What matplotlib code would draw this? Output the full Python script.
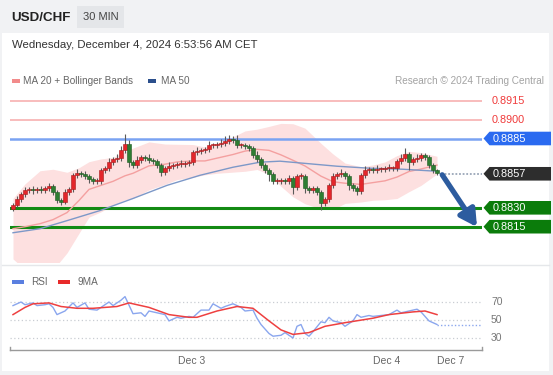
import matplotlib
matplotlib.use("Agg")
import matplotlib.pyplot as plt
from matplotlib.patches import Rectangle, Polygon
from matplotlib.transforms import blended_transform_factory
import numpy as np

plt.rcParams['font.family'] = ['Liberation Sans', 'DejaVu Sans']

# ---------------- data ----------------
symbol = "USD/CHF"
timeframe = "30 MIN"
timestamp = "Wednesday, December 4, 2024 6:53:56 AM CET"
copyright_text = "Research \u00a9 2024 Trading Central"

closes = [0.88326, 0.88366, 0.88406, 0.88438, 0.88446, 0.88438, 0.88446, 0.88438, 0.88454, 0.88470,
          0.88422, 0.88358, 0.88350, 0.88422, 0.88446, 0.88558, 0.88574, 0.88566, 0.88550, 0.88526,
          0.88510, 0.88510, 0.88598, 0.88614, 0.88662, 0.88686, 0.88694, 0.88758, 0.88806, 0.88662,
          0.88638, 0.88678, 0.88702, 0.88694, 0.88678, 0.88670, 0.88638, 0.88582, 0.88614, 0.88630,
          0.88638, 0.88646, 0.88646, 0.88654, 0.88662, 0.88742, 0.88750, 0.88758, 0.88766, 0.88798,
          0.88798, 0.88806, 0.88814, 0.88830, 0.88846, 0.88838, 0.88798, 0.88798, 0.88790, 0.88774,
          0.88718, 0.88686, 0.88638, 0.88598, 0.88566, 0.88510, 0.88510, 0.88518, 0.88510, 0.88534,
          0.88462, 0.88550, 0.88550, 0.88454, 0.88438, 0.88454, 0.88422, 0.88342, 0.88366, 0.88478,
          0.88550, 0.88566, 0.88574, 0.88550, 0.88478, 0.88454, 0.88430, 0.88558, 0.88598, 0.88606,
          0.88598, 0.88606, 0.88606, 0.88614, 0.88614, 0.88614, 0.88670, 0.88694, 0.88726, 0.88662,
          0.88686, 0.88694, 0.88718, 0.88702, 0.88638, 0.88598, 0.88574]
first_open = 0.88294
# wick lengths in pips (0.0001)
up_wick = [1, 3, 2, 3, 2, 3, 2, 3, 2, 3, 2, 2, 2, 3, 2, 2, 3, 2, 3, 2,
           2, 3, 2, 2, 3, 2, 3, 3, 8, 3, 2, 3, 2, 2, 3, 2, 2, 2, 2, 3,
           2, 2, 3, 2, 2, 2, 3, 2, 2, 3, 2, 2, 3, 4, 3, 2, 4, 2, 2, 2,
           2, 3, 2, 2, 2, 2, 3, 2, 2, 3, 2, 2, 3, 2, 2, 2, 2, 2, 2, 2,
           3, 2, 3, 2, 2, 2, 2, 2, 3, 2, 2, 3, 2, 2, 3, 2, 2, 3, 5, 2,
           2, 3, 2, 2, 2, 2, 1]
dn_wick = [2, 2, 2, 2, 2, 3, 2, 2, 2, 2, 2, 2, 3, 2, 2, 2, 2, 2, 2, 3,
           2, 2, 2, 2, 2, 2, 2, 2, 2, 4, 2, 2, 2, 2, 2, 2, 2, 3, 2, 2,
           2, 2, 2, 2, 2, 2, 2, 2, 2, 2, 2, 2, 2, 2, 2, 2, 2, 2, 2, 2,
           2, 2, 2, 2, 5, 2, 2, 2, 2, 2, 5, 2, 2, 4, 2, 2, 2, 6, 3, 2,
           2, 2, 2, 2, 4, 2, 3, 2, 2, 2, 2, 2, 2, 2, 2, 2, 2, 2, 2, 6,
           2, 2, 2, 2, 2, 2, 1]

ma20_idx = [0, 3, 6.75, 10, 13.5, 16.5, 19, 22, 25, 28, 30, 34, 38, 41, 45, 48, 51, 55, 58, 61,
            64, 67, 70, 73, 77, 80, 83, 87, 90, 93, 96, 99, 102, 106]
ma20 = [0.88134, 0.88150, 0.88174, 0.88206, 0.88262, 0.88358, 0.88446, 0.88478, 0.88510, 0.88554,
        0.88574, 0.88633, 0.88646, 0.88664, 0.88672, 0.88672, 0.88694, 0.88723, 0.88750, 0.88764,
        0.88756, 0.88720, 0.88677, 0.88632, 0.88551, 0.88507, 0.88495, 0.88486, 0.88500, 0.88514,
        0.88544, 0.88588, 0.88608, 0.88639]
bb_half_pips = [24, 34, 42, 40, 32, 26, 22, 21, 19, 19, 20, 19, 16, 14, 13, 11, 12, 14, 16, 16,
                19, 25, 29, 30, 26, 22, 16, 14, 14, 15, 17, 16, 13, 7]

ma50_idx = [0, 6.75, 13.5, 21.75, 30, 38.5, 46.75, 55, 61.75, 66.75, 72.5, 81, 89.25, 97.5, 106]
ma50 = [0.88102, 0.88134, 0.88198, 0.88278, 0.88374, 0.88478, 0.88558, 0.88622, 0.88662, 0.88670,
        0.88654, 0.88630, 0.88614, 0.88606, 0.88590]

resistances = [0.8915, 0.8900]
pivot = 0.8885
last_price = 0.8857
supports = [0.8830, 0.8815]

rsi_idx = [0, 2, 3, 5, 6, 8, 9, 10, 11, 13, 15, 16, 18, 19, 21, 22, 24, 25, 27, 28,
           30, 32, 33, 34, 36, 38, 39, 41, 42, 44, 45, 47, 49, 50, 52, 53, 55, 57, 58, 60,
           61, 62, 64, 65, 67, 68, 70, 71, 72, 73, 74, 75, 77, 78, 79, 80, 82, 83, 85, 86,
           87, 89, 90, 92, 94, 96, 97, 99, 101, 102, 104, 106]
rsi = [66, 70, 67, 69, 66, 67, 68, 64, 56, 60, 69, 64, 69, 62, 61, 64, 70, 66, 72, 76,
       57, 58, 54, 60, 58, 56, 49, 53, 52, 54, 53, 61, 61, 68, 63, 65, 68, 64, 60, 61,
       52, 45, 35, 32, 33, 36, 30, 43, 45, 35, 32, 37, 48, 47, 53, 49, 47, 43, 49, 56,
       53, 55, 54, 55, 56, 61, 58, 60, 62, 59, 49, 45]
rsi_ma_idx = [0, 3, 5, 9, 12, 16, 20, 26, 29, 34, 39, 44, 46, 51, 56, 60, 64, 67, 70, 74,
              78, 83, 90, 94, 100, 103, 106]
rsi_ma = [56, 64, 68, 69, 65, 63, 63, 65, 69, 64, 56, 53, 53, 60, 65, 63, 49, 39, 34, 36,
          43, 47, 52, 56, 59, 60, 56]
rsi_levels = [70, 50, 30]

day_labels = ["Dec 3", "Dec 4", "Dec 7"]
day_idx = [44.75, 93.5, 109.5]

# ---------------- layout ----------------
W, H = 553, 375
fig = plt.figure(figsize=(W / 100, H / 100), dpi=100)
fig.patch.set_facecolor('#f1f2f4')

def frect(x0, y0, x1, y1):
    return [x0 / W, 1 - y1 / H, (x1 - x0) / W, (y1 - y0) / H]

bg = fig.add_axes([0, 0, 1, 1], zorder=0)
bg.set_xlim(0, W); bg.set_ylim(H, 0); bg.axis('off')
bg.add_patch(Rectangle((2, 33), 547, 338, facecolor='white', edgecolor='none'))
bg.add_patch(Rectangle((77, 6), 47, 22, facecolor='#e4e6e9', edgecolor='none'))
bg.text(11, 18, symbol, fontsize=9.6, fontweight='bold', color='#222222', va='center')
bg.text(100.5, 17.5, timeframe, fontsize=8, color='#444444', va='center', ha='center')
bg.text(12, 44.5, timestamp, fontsize=8.2, color='#333333', va='center')
# main legend
bg.add_patch(Rectangle((12, 78.5), 8, 4, facecolor='#f28b8b', edgecolor='none'))
bg.text(23, 80.5, "MA 20 + Bollinger Bands", fontsize=7.2, color='#666666', va='center')
bg.add_patch(Rectangle((148, 78.5), 8, 4, facecolor='#2b4f8c', edgecolor='none'))
bg.text(161, 80.5, "MA 50", fontsize=7.2, color='#666666', va='center')
bg.text(544, 80.5, copyright_text, fontsize=7.2, color='#a3a3a3', va='center', ha='right')
# separator
bg.plot([2, 549], [265, 265], color='#e5e7ea', lw=1)
# RSI legend
bg.add_patch(Rectangle((12, 280), 12, 4, facecolor='#5a7fe0', edgecolor='none'))
bg.text(31, 282, "RSI", fontsize=7.2, color='#666666', va='center')
bg.add_patch(Rectangle((58, 280), 12, 4, facecolor='#e82a2a', edgecolor='none'))
bg.text(77, 282, "9MA", fontsize=7.2, color='#666666', va='center')

# ---------------- main price axes ----------------
PX = 12600.0
ax = fig.add_axes(frect(10, 90, 482, 262), zorder=2)
ax.patch.set_alpha(0)
ax.set_xlim(-0.75, 117.25)
ax.set_ylim(0.8915 - (262 - 100.7) / PX, 0.8915 + (100.7 - 90) / PX)
ax.axis('off')

idx = np.arange(len(closes))
c = np.array(closes)
o = np.concatenate([[first_open], c[:-1]])
hi = np.maximum(o, c) + np.array(up_wick) * 1e-4
lo = np.minimum(o, c) - np.array(dn_wick) * 1e-4

# Bollinger band + MAs
m20 = np.array(ma20)
half = np.array(bb_half_pips) * 1e-4
ax.fill_between(ma20_idx, m20 - half, m20 + half, color='#fde0e0', lw=0, zorder=1)
ax.plot(ma20_idx, m20, color='#f4a0a0', lw=1.0, zorder=2)
ax.plot(ma50_idx, ma50, color='#7d98c8', lw=1.0, zorder=2)

# level lines
for r in resistances:
    ax.axhline(r, color='#f7a9a9', lw=1.1, zorder=1)
ax.axhline(pivot, color='#7aa3f2', lw=1.8, zorder=1)
for s in supports:
    ax.axhline(s, color='#138a13', lw=2.2, zorder=1)
ax.plot([idx[-1] + 1, 117.25], [last_price, last_price], color='#9aa6b8', lw=1.3,
        ls=(0, (1, 1)), zorder=1)

# candles
up = c >= o
body_col = np.where(up, '#e3262b', '#2e7d32')
edge_col = np.where(up, '#a51b1b', '#1e5a22')
ax.vlines(idx, lo, hi, color='#5a5a5a', lw=0.8, zorder=3)
bh = np.maximum(np.abs(c - o), 0.00010)
ax.bar(idx, bh, bottom=np.minimum(o, c), width=0.78, color=body_col,
       edgecolor=edge_col, linewidth=0.4, zorder=4)

# forecast arrow
ax.annotate('', xy=(116.0, supports[1] - 0.00003), xytext=(107.3, last_price - 0.00008),
            arrowprops=dict(arrowstyle='-|>,head_width=0.55,head_length=1.0', lw=3.8,
                            color='#2d5c9f', shrinkA=0, shrinkB=0), zorder=5)

# right-hand labels
tr = blended_transform_factory(ax.transAxes, ax.transData)
def fx(px):
    return (px - 10) / 472.0
hh = 6.8 / PX
def tag(price, text, color):
    pts = [(fx(483.5), price), (fx(489.5), price + hh), (fx(551), price + hh),
           (fx(551), price - hh), (fx(489.5), price - hh)]
    ax.add_patch(Polygon(pts, closed=True, transform=tr, facecolor=color,
                         edgecolor='none', clip_on=False, zorder=6))
    ax.text(fx(493), price, text, transform=tr, color='white', fontsize=7.8,
            va='center', ha='left', clip_on=False, zorder=7)

for r in resistances:
    ax.text(fx(492), r, f"{r:.4f}", transform=tr, color='#f03a3a', fontsize=7.8,
            va='center', ha='left', clip_on=False)
tag(pivot, f"{pivot:.4f}", '#2a6af0')
tag(last_price, f"{last_price:.4f}", '#2d2d2d')
for s in supports:
    tag(s, f"{s:.4f}", '#0b7c0b')

# ---------------- RSI axes ----------------
rx = fig.add_axes(frect(10, 288, 482, 350), zorder=2)
rx.patch.set_alpha(0)
rx.set_xlim(-0.75, 117.25)
rx.set_ylim(30 - 12 / 0.9, 70 + 14 / 0.9)
for sp in ['top', 'right', 'left']:
    rx.spines[sp].set_visible(False)
rx.spines['bottom'].set_color('#9a9a9a')
rx.spines['bottom'].set_linewidth(1.0)
rx.set_yticks([])
rx.set_xticks([])
for lv in rsi_levels:
    rx.axhline(lv, color='#c9cdd3', lw=0.9, ls=(0, (1, 2)))
    rx.text(1.0 + 9 / 472, lv, str(lv), transform=blended_transform_factory(rx.transAxes, rx.transData),
            fontsize=7.5, color='#777777', va='center', ha='left', clip_on=False)
rx.plot(rsi_idx, rsi, color='#8aa6ee', lw=1.0)
rx.plot([rsi_idx[-1], 117.25], [rsi[-1], rsi[-1]], color='#8aa6ee', lw=1.0, ls=(0, (1, 1.5)))
rx.plot(rsi_ma_idx, rsi_ma, color='#ee4040', lw=1.1)
# axis end ticks
trb = blended_transform_factory(rx.transAxes, rx.transAxes)
for xe in (0.0, 1.0):
    rx.plot([xe, xe], [0, 0.05], color='#9a9a9a', lw=1.0, transform=trb, clip_on=False)
trx = blended_transform_factory(rx.transData, rx.transAxes)
for lab, p in zip(day_labels, day_idx):
    rx.text(p, -11 / 62, lab, transform=trx, fontsize=7.5, color='#666666',
            ha='center', va='center', clip_on=False)

fig.savefig('out.png', dpi=100, facecolor=fig.get_facecolor())
